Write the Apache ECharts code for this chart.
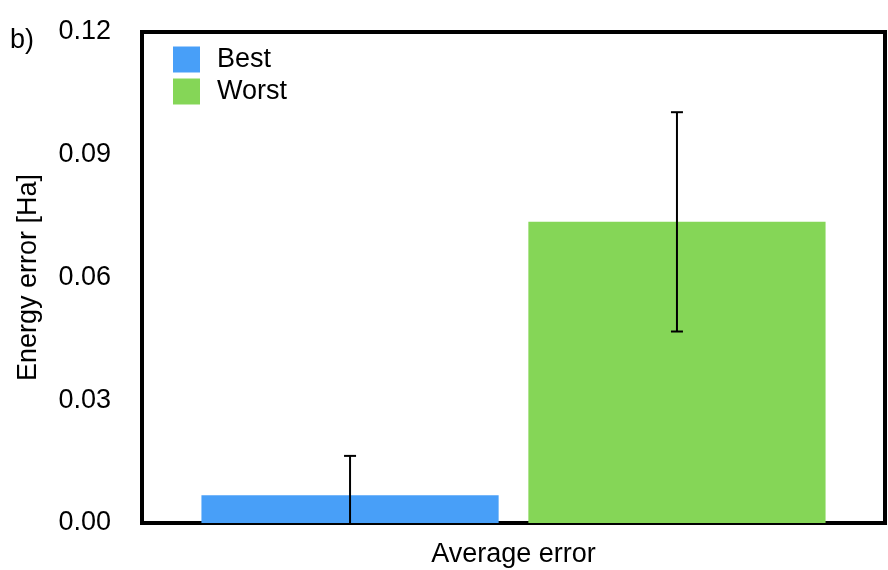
<!DOCTYPE html>
<html>
<head>
<meta charset="utf-8">
<script src="https://cdn.jsdelivr.net/npm/echarts@6/dist/echarts.min.js"></script>
<style>
html,body{margin:0;padding:0;background:#fff;}
#chart{width:888px;height:570px;}
</style>
</head>
<body>
<div id="chart"></div>
<script>
const categories = ['Average error'];
const seriesNames = ['Best', 'Worst'];
const bestMean = [0.0068];
const bestErr = [0.0096];
const worstMean = [0.0736];
const worstErr = [0.0268];
const yTicks = [0, 0.03, 0.06, 0.09, 0.12];
const colors = ['#489FF8', '#85D657'];

const FONT = '"Liberation Sans", Arial, Helvetica, sans-serif';
const FS = 27;
const chart = echarts.init(document.getElementById('chart'), null, {renderer: 'canvas'});

const barWidthPct = 0.4;
const barGapPct = 0.1;

function errData(means, errs, idx) {
  return means.map((m, i) => [i, m - errs[i], m + errs[i], idx]);
}

function renderErr(params, api) {
  const cat = api.value(0);
  const lo = api.value(1);
  const hi = api.value(2);
  const sIdx = api.value(3);
  const band = api.size([1, 0])[0];
  const bw = band * barWidthPct;
  const gap = bw * barGapPct;
  const offset = (sIdx === 0 ? -1 : 1) * (bw + gap) / 2;
  const pLo = api.coord([cat, lo]);
  const pHi = api.coord([cat, hi]);
  const x = pLo[0] + offset;
  const cap = 6;
  const style = {stroke: '#000', lineWidth: 2};
  return {
    type: 'group',
    children: [
      {type: 'line', shape: {x1: x, y1: pLo[1], x2: x, y2: pHi[1]}, style: style},
      {type: 'line', shape: {x1: x - cap, y1: pHi[1], x2: x + cap, y2: pHi[1]}, style: style},
      {type: 'line', shape: {x1: x - cap, y1: pLo[1], x2: x + cap, y2: pLo[1]}, style: style}
    ]
  };
}

const option = {
  animation: false,
  backgroundColor: '#fff',
  textStyle: {fontFamily: FONT},
  grid: {left: 142, right: 3, top: 32, bottom: 47, containLabel: false, outerBoundsMode: 'none',
    show: true, borderColor: '#000', borderWidth: 4, backgroundColor: 'transparent'},
  legend: {
    data: seriesNames,
    orient: 'vertical',
    left: 173,
    top: 46,
    padding: 0,
    itemWidth: 27,
    itemHeight: 26,
    itemGap: 5,
    icon: 'rect',
    textStyle: {fontSize: FS, color: '#000', fontFamily: FONT, padding: [0, 0, 0, 12]}
  },
  graphic: [{
    type: 'text', left: 10, top: 27,
    style: {text: 'b)', fontSize: FS, fill: '#000', fontFamily: FONT}
  }],
  xAxis: {
    type: 'category',
    data: categories,
    axisLine: {show: true, lineStyle: {color: '#000', width: 4}},
    axisTick: {show: false},
    axisLabel: {fontSize: FS, color: '#000', margin: 18, fontFamily: FONT}
  },
  yAxis: {
    type: 'value',
    min: 0, max: 0.12, interval: 0.03,
    name: 'Energy error [Ha]',
    nameLocation: 'middle',
    nameGap: 100,
    nameTextStyle: {fontSize: FS, color: '#000', fontFamily: FONT},
    axisLine: {show: true, lineStyle: {color: '#000', width: 4}},
    axisTick: {show: false},
    splitLine: {show: false},
    axisLabel: {
      fontSize: FS, color: '#000', margin: 31, fontFamily: FONT,
      formatter: v => v.toFixed(2)
    }
  },
  series: [
    {name: seriesNames[0], type: 'bar', data: bestMean, barWidth: (barWidthPct * 100) + '%', barGap: (barGapPct * 100) + '%', itemStyle: {color: colors[0]}},
    {name: seriesNames[1], type: 'bar', data: worstMean, barWidth: (barWidthPct * 100) + '%', barGap: (barGapPct * 100) + '%', itemStyle: {color: colors[1]}},
    {name: 'errBest', type: 'custom', renderItem: renderErr, data: errData(bestMean, bestErr, 0), clip: true, z: 5,
      encode: {x: 0, y: [1, 2]}},
    {name: 'errWorst', type: 'custom', renderItem: renderErr, data: errData(worstMean, worstErr, 1), clip: true, z: 5,
      encode: {x: 0, y: [1, 2]}}
  ]
};
chart.setOption(option);
</script>
</body>
</html>
